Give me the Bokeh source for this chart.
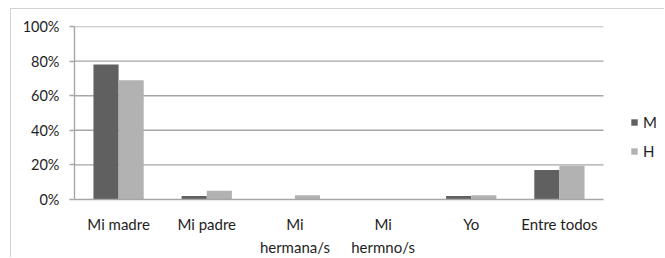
from bokeh.plotting import figure
from bokeh.models import (ColumnDataSource, Range1d, Legend, LegendItem, NumeralTickFormatter,
                          FixedTicker)
from bokeh.embed import file_html
from bokeh.resources import INLINE

categories = ["Mi madre", "Mi padre", "Mi\nhermana/s", "Mi\nhermno/s", "Yo", "Entre todos"]
m_values = [0.78, 0.02, 0.0, 0.0, 0.02, 0.17]
h_values = [0.69, 0.05, 0.025, 0.0, 0.025, 0.195]
y_ticks = [0, 0.2, 0.4, 0.6, 0.8, 1.0]

n = len(categories)
centers = [i + 0.5 for i in range(n)]
bw = 0.285
src = ColumnDataSource(dict(
    xm=[c - bw / 2 for c in centers], xh=[c + bw / 2 for c in centers],
    m=m_values, h=h_values))

GRID = "#a6a6a6"
# frame runs to the right edge so the legend can sit inside it; categories occupy [0, n]
x_end = n * (665 - 74) / (603 - 74)

p = figure(x_range=Range1d(0, x_end), y_range=Range1d(0, 1.0),
           width=654, height=249, output_backend="svg", toolbar_location=None,
           min_border_left=63, min_border_top=17, min_border_bottom=58, min_border_right=0)
p.styles = {"margin-left": "10px", "margin-top": "8px",
            "border-left": "1px solid #d2d2d2", "border-top": "1px solid #d2d2d2"}
p.outline_line_color = None
p.xgrid.grid_line_color = None
p.ygrid.grid_line_color = None

# horizontal gridlines across the category span only
grid_src = ColumnDataSource(dict(y=y_ticks[1:], x0=[0] * (len(y_ticks) - 1), x1=[n] * (len(y_ticks) - 1)))
p.segment(x0="x0", x1="x1", y0="y", y1="y", source=grid_src, line_color=GRID, line_width=1.4)

rm = p.vbar(x="xm", top="m", width=bw, source=src, fill_color="#606060", line_color=None)
rh = p.vbar(x="xh", top="h", width=bw, source=src, fill_color="#b2b2b2", line_color=None)

p.yaxis.ticker = FixedTicker(ticks=y_ticks)
p.yaxis.formatter = NumeralTickFormatter(format="0%")
p.xaxis.ticker = FixedTicker(ticks=centers)
p.xaxis.major_label_overrides = {c: lab for c, lab in zip(centers, categories)}
p.xaxis.bounds = (0, n)

for ax in (p.xaxis[0], p.yaxis[0]):
    ax.axis_line_color = GRID
    ax.axis_line_width = 1.4
    ax.minor_tick_line_color = None
    ax.major_label_text_font = "Lato"
    ax.major_label_text_color = "#1e1e1e"
p.xaxis.major_tick_line_color = None
p.yaxis.major_tick_line_color = GRID
p.yaxis.major_tick_line_width = 1.4
p.yaxis.major_tick_in = 0
p.yaxis.major_tick_out = 5
p.yaxis.major_label_text_font_size = "14.5px"
p.xaxis.major_label_text_font_size = "15px"
p.xaxis.major_label_text_line_height = 1.3
p.yaxis.major_label_standoff = 10
p.xaxis.major_label_standoff = 9

legend = Legend(items=[LegendItem(label="M", renderers=[rm]), LegendItem(label="H", renderers=[rh])],
                location=(556, 39), orientation="vertical", border_line_color=None,
                background_fill_alpha=0, glyph_width=8, glyph_height=8, spacing=11,
                label_text_font="Lato", label_text_font_size="15px", label_text_color="#1e1e1e",
                padding=0, margin=0, label_standoff=5)
p.add_layout(legend, "center")

open("out.html", "w").write(file_html(p, INLINE))
